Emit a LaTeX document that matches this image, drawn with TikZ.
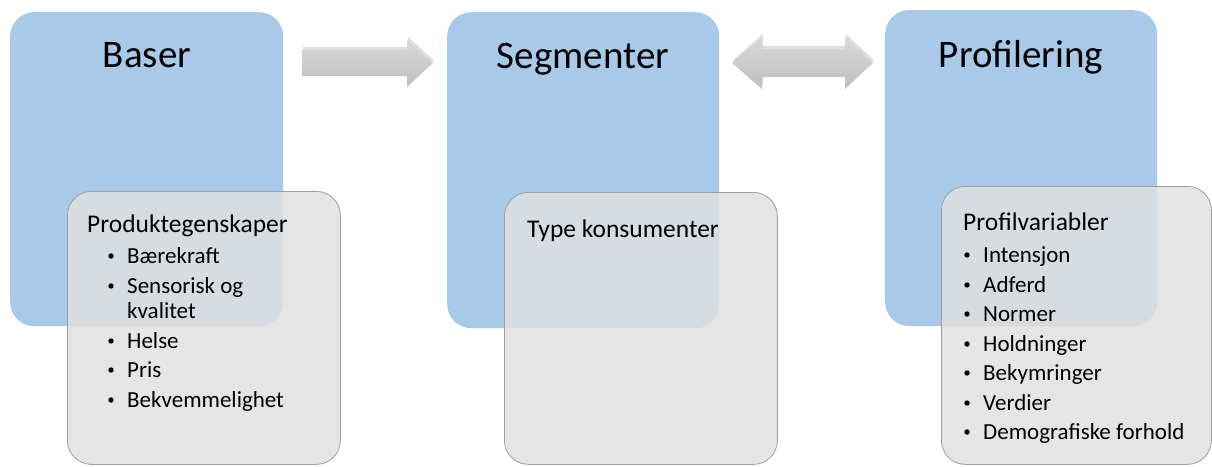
\documentclass[tikz,border=0pt]{standalone}
\usepackage{fontspec}
\setmainfont{Carlito}
\usetikzlibrary{shadows}
\definecolor{boxblue}{RGB}{169,201,232}
\definecolor{boxgray}{RGB}{224,224,224}
\definecolor{edgegray}{RGB}{160,160,160}
\definecolor{arrowgray}{RGB}{207,207,207}
\tikzset{
  bluebox/.style={fill=boxblue, draw=none, rounded corners=24pt, anchor=north west, inner sep=0pt},
  graybox/.style={fill=boxgray, fill opacity=0.85, draw=edgegray, line width=0.8pt, rounded corners=24pt, anchor=north west, inner sep=0pt},
  title/.style={anchor=base, font=\fontsize{39}{47}\selectfont, inner sep=0pt},
  head/.style={anchor=base west, font=\fontsize{25.5}{30}\selectfont, inner sep=0pt},
  itemtext/.style={anchor=base west, font=\fontsize{23}{27}\selectfont, inner sep=0pt},
  dot/.style={circle, fill=black, draw=none, inner sep=0pt, minimum size=5.4pt},
  bigarrow/.style={top color=arrowgray!80!white, bottom color=arrowgray!92!black, draw=none, drop shadow={shadow xshift=1pt, shadow yshift=3pt, opacity=0.25}},
}
\begin{document}
\begin{tikzpicture}[x=1pt,y=-1pt]
\useasboundingbox (0,0) rectangle (1212,466);
% blue boxes
\node[bluebox, minimum width=273pt, minimum height=314pt] (b1) at (10,12) {};
\node[bluebox, minimum width=272pt, minimum height=316pt] (b2) at (447,12) {};
\node[bluebox, minimum width=272pt, minimum height=316pt] (b3) at (885,10) {};
% gray boxes
\node[graybox, minimum width=273pt, minimum height=273pt] (g1) at (67,191) {};
\node[graybox, minimum width=273pt, minimum height=272pt] (g2) at (504,192) {};
\node[graybox, minimum width=270pt, minimum height=278pt] (g3) at (941,186) {};
% titles
\node[title] (t1) at (147,67) {Baser};
\node[title] (t2) at (583,68) {Segmenter};
\node[title] (t3) at (1021,67) {Profilering};
% arrows
\path[bigarrow] (302,50) -- (407,50) -- (407,40) -- (433,63) -- (407,87) -- (407,76) -- (302,76) -- cycle;
\path[bigarrow] (732,63) -- (762,37) -- (762,49) -- (845,49) -- (845,37) -- (873,63) -- (845,89) -- (845,77) -- (762,77) -- (762,89) -- cycle;
% box 1 text
\node[head] (h1) at (87,232) {Produktegenskaper};
\foreach \n/\y/\t in {a/263/Bærekraft, b/293/Sensorisk og, d/348/Helse, e/377/Pris, f/407/Bekvemmelighet}{
  \node[dot] (p1\n) at (111,\y-7) {};
  \node[itemtext] (i1\n) at (127,\y) {\t};
}
\node[itemtext] (i1c) at (127,318) {kvalitet};
% box 2 text
\node[head] (h2) at (527,237) {Type konsumenter};
% box 3 text
\node[head] (h3) at (963,230) {Profilvariabler};
\foreach \n/\y/\t in {a/262/Intensjon, b/292/Adferd, c/321/Normer, d/351/Holdninger, e/380/Bekymringer, f/410/Verdier, g/439/Demografiske forhold}{
  \node[dot] (p3\n) at (967,\y-7) {};
  \node[itemtext] (i3\n) at (983,\y) {\t};
}
\end{tikzpicture}
\end{document}
